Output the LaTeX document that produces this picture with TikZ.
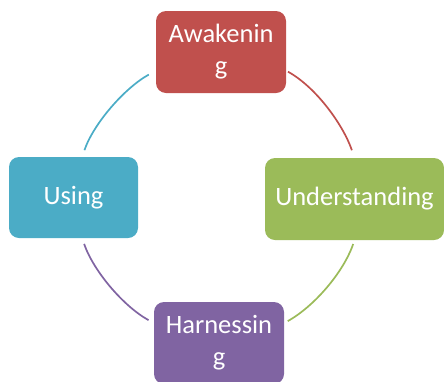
\documentclass[tikz,border=0pt]{standalone}
\usepackage{fontspec}
\setmainfont{Carlito}
\definecolor{awred}{HTML}{C0504D}
\definecolor{ungreen}{HTML}{9BBB59}
\definecolor{hapurple}{HTML}{8064A2}
\definecolor{usblue}{HTML}{4BACC6}
\begin{document}
\begin{tikzpicture}[x=1pt,y=-1pt,
        stage/.style={rounded corners=10pt, text=white, align=center, inner sep=0pt,
            minimum height=82pt, font=\fontsize{26.5}{32}\selectfont},
        link/.style={line width=1.7pt, looseness=0.8}]
        \clip (0,0) rectangle (444,381);

        \node[stage, fill=awred, minimum width=130pt] (awakening) at (221,52) {Awakenin\\g};
        \node[stage, fill=ungreen, minimum width=179pt] (understanding) at (354.5,199) {Understanding};
        \node[stage, fill=hapurple, minimum width=130pt] (harnessing) at (219,343) {Harnessin\\g};
        \node[stage, fill=usblue, minimum width=129pt, minimum height=81pt] (using) at (73.5,197.5) {Using};

        \draw[link, awred, shorten <=2pt, shorten >=8pt] (awakening.-16) to[out=-29, in=109] (understanding.north);
        \draw[link, ungreen, shorten <=4pt, shorten >=4pt] (understanding.south) to[out=-109, in=29] (harnessing.17);
        \draw[link, hapurple, shorten <=6pt, shorten >=6pt] (harnessing.163) to[out=151, in=-71] (using.-78);
        \draw[link, usblue, shorten <=7pt, shorten >=8pt] (using.78) to[out=71, in=-151] (awakening.196);
    \end{tikzpicture}
\end{document}
